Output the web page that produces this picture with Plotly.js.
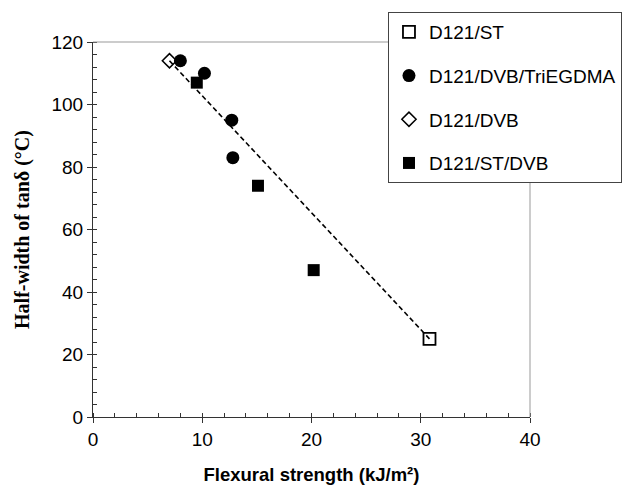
<!DOCTYPE html>
<html>
<head>
<meta charset="utf-8">
<script src="https://cdn.plot.ly/plotly-3.0.1.min.js"></script>
<style>html,body{margin:0;padding:0;background:#fff;}#chart{width:638px;height:487px;}</style>
</head>
<body>
<div id="chart"></div>
<script>
// Data
const stX = [30.8];
const stY = [25];
const dvbTriX = [8.0, 10.2, 12.7, 12.8];
const dvbTriY = [114, 110, 95, 83];
const dvbX = [7.0];
const dvbY = [114];
const stDvbX = [9.5, 15.1, 20.2];
const stDvbY = [107, 74, 47];
const fitX = [7.0, 30.8];
const fitY = [114, 25];
const seriesNames = ["D121/ST", "D121/DVB/TriEGDMA", "D121/DVB", "D121/ST/DVB"];
const xTickVals = [0, 10, 20, 30, 40];
const yTickVals = [0, 20, 40, 60, 80, 100, 120];

const traces = [
  {x: fitX, y: fitY, mode: 'lines', line: {color: '#000', width: 1.6, dash: '5px,3px'}, showlegend: false, hoverinfo: 'skip'},
  {x: stX, y: stY, name: seriesNames[0], mode: 'markers', legendgroup: 'a',
   marker: {symbol: 'square-open', size: 12, color: '#000', line: {width: 1.8, color: '#000'}}},
  {x: dvbTriX, y: dvbTriY, name: seriesNames[1], mode: 'markers', legendgroup: 'b',
   marker: {symbol: 'circle', size: 13, color: '#000'}},
  {x: dvbX, y: dvbY, name: seriesNames[2], mode: 'markers', legendgroup: 'c',
   marker: {symbol: 'diamond-open', size: 11, color: '#000', line: {width: 1.5, color: '#000'}}},
  {x: stDvbX, y: stDvbY, name: seriesNames[3], mode: 'markers', legendgroup: 'd',
   marker: {symbol: 'square', size: 12, color: '#000'}},
  {x: fitX, y: fitY, xaxis: 'x2', yaxis: 'y2', mode: 'lines', line: {width: 0}, showlegend: false, hoverinfo: 'skip'}
];

const axFont = {family: 'Arial, Liberation Sans, sans-serif', size: 19, color: '#000'};
const layout = {
  width: 638, height: 487,
  margin: {l: 93, r: 108, t: 42, b: 70},
  paper_bgcolor: '#fff', plot_bgcolor: '#fff',
  showlegend: true,
  xaxis: {
    range: [0, 40], tickvals: xTickVals, ticktext: xTickVals.map(String),
    showgrid: false, zeroline: false, showline: true, linecolor: '#333', linewidth: 1,
    ticks: 'outside', ticklen: 5, tickcolor: '#333', tickfont: axFont,
    minor: {dtick: 2, ticks: 'inside', ticklen: 4, tickcolor: '#333', showgrid: false},
    title: {text: '<b>Flexural strength (kJ/m²)</b>', font: {family: 'Arial, Liberation Sans, sans-serif', size: 18.5, color: '#000'}, standoff: 19}
  },
  yaxis: {
    range: [0, 120], tickvals: yTickVals, ticktext: yTickVals.map(String),
    showgrid: false, zeroline: false, showline: true, linecolor: '#333', linewidth: 1,
    ticks: 'outside', ticklen: 5, tickcolor: '#333', tickfont: axFont,
    minor: {dtick: 4, ticks: 'inside', ticklen: 4, tickcolor: '#333', showgrid: false},
    title: {text: '<b>Half-width of tanδ (°C)</b>', font: {family: 'Liberation Serif, Times New Roman, serif', size: 20, color: '#000'}, standoff: 16}
  },
  xaxis2: {overlaying: 'x', matches: 'x', range: [0, 40], tickvals: xTickVals, showticklabels: false,
    ticks: 'inside', ticklen: 4, tickcolor: '#333', showgrid: false, zeroline: false, showline: false, side: 'bottom'},
  yaxis2: {overlaying: 'y', matches: 'y', range: [0, 120], tickvals: yTickVals, showticklabels: false,
    ticks: 'inside', ticklen: 4, tickcolor: '#333', showgrid: false, zeroline: false, showline: false, side: 'left'},
  shapes: [
    {type: 'line', xref: 'paper', yref: 'paper', x0: 0, x1: 1, y0: 1, y1: 1, line: {color: '#999', width: 1}},
    {type: 'line', xref: 'paper', yref: 'paper', x0: 1, x1: 1, y0: 0, y1: 1, line: {color: '#999', width: 1}}
  ],
  legend: {
    x: 0.675, y: 1.08, xanchor: 'left', yanchor: 'top',
    bgcolor: '#fff', bordercolor: '#444', borderwidth: 1,
    font: {family: 'Arial, Liberation Sans, sans-serif', size: 19, color: '#000'},
    traceorder: 'grouped', tracegroupgap: 16, itemwidth: 30
  }
};

Plotly.newPlot('chart', traces, layout, {displayModeBar: false, staticPlot: true});
</script>
</body>
</html>
